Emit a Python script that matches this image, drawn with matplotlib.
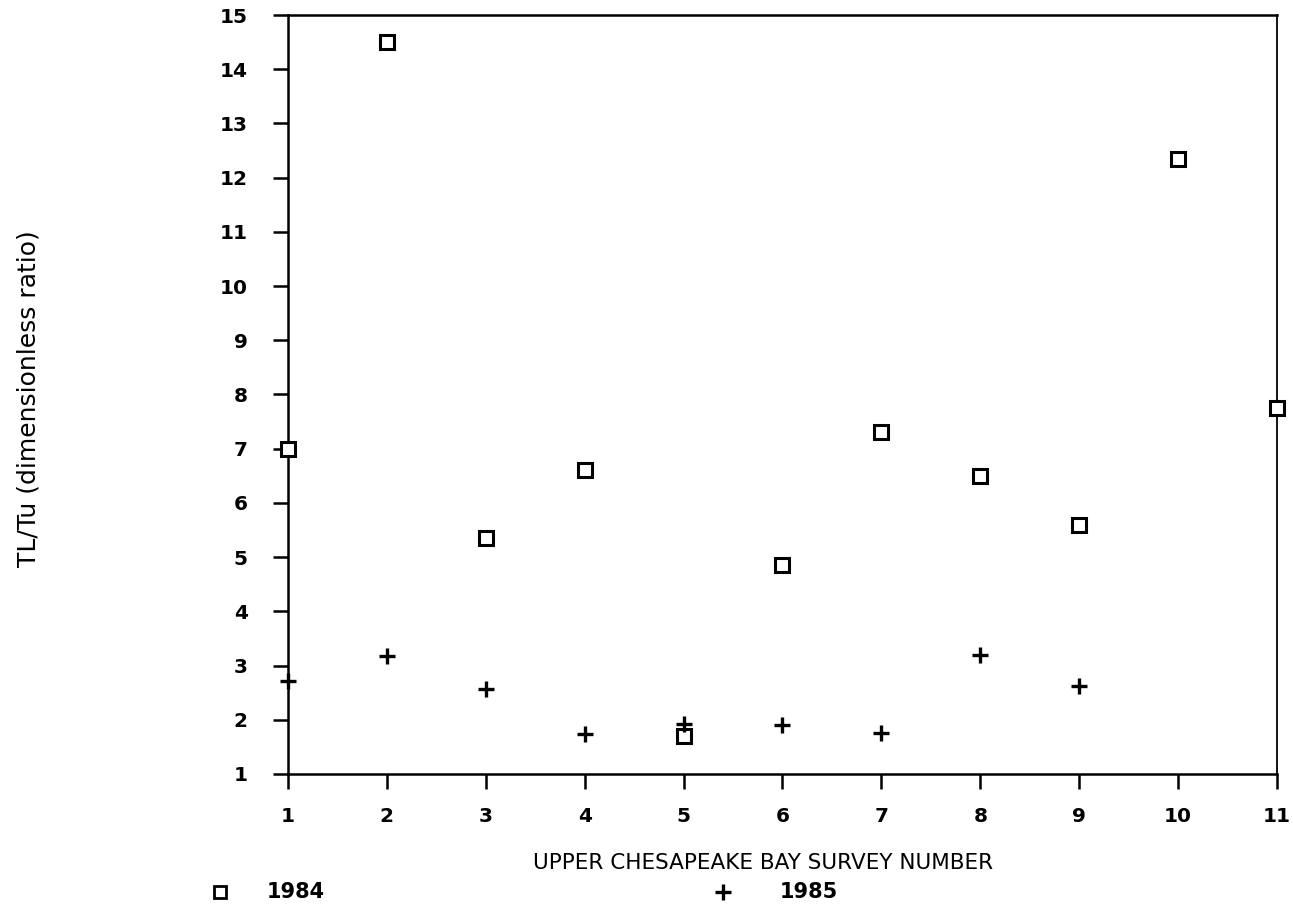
import matplotlib
matplotlib.use('Agg')
import matplotlib.pyplot as plt
from matplotlib.lines import Line2D

# TL/Tu ratio per survey, upper Chesapeake Bay
survey = [1, 2, 3, 4, 5, 6, 7, 8, 9, 10, 11]
ratio_1984 = [7.0, 14.5, 5.35, 6.6, 1.7, 4.85, 7.3, 6.5, 5.6, 12.35, 7.75]
survey_1985 = [1, 2, 3, 4, 5, 6, 7, 8, 9]
ratio_1985 = [2.72, 3.18, 2.56, 1.73, 1.93, 1.9, 1.75, 3.2, 2.62]

x_ticks = list(range(1, 12))
y_ticks = list(range(1, 16))

plt.rcParams['font.family'] = ['DejaVu Sans']

fig = plt.figure(figsize=(12.93, 9.05), dpi=100)
ax = fig.add_axes([0.2227, 0.1448, 0.7649, 0.8386])

ax.plot(survey, ratio_1984, linestyle='none', marker='s', markersize=9.5,
        markerfacecolor='white', markeredgecolor='black', markeredgewidth=2.2,
        clip_on=False, zorder=3)
ax.plot(survey_1985, ratio_1985, linestyle='none', marker='+', markersize=12,
        color='black', markeredgewidth=2.4, clip_on=False, zorder=3)

ax.set_xlim(1, 11)
ax.set_ylim(1, 15)
ax.set_xticks(x_ticks)
ax.set_yticks(y_ticks)

for side in ['left', 'bottom', 'top', 'right']:
    ax.spines[side].set_linewidth(1.8)
ax.spines['right'].set_linewidth(1.3)

ax.tick_params(axis='both', direction='out', length=11, width=1.8,
               top=False, right=False)
ax.tick_params(axis='y', pad=18)
ax.tick_params(axis='x', pad=13)
for lab in ax.get_xticklabels() + ax.get_yticklabels():
    lab.set_fontsize(14.5)
    lab.set_fontweight('bold')

fig.text(0.590, 0.0464, 'UPPER CHESAPEAKE BAY SURVEY NUMBER', fontsize=15.5,
         ha='center', va='center')
fig.text(0.0217, 0.560, 'TL/Tu (dimensionless ratio)', rotation=90,
         fontsize=18, ha='center', va='center')

# legend row under the axis title
fig.add_artist(Line2D([0.170], [0.0144], transform=fig.transFigure, marker='s',
                      markersize=8, markerfacecolor='white', markeredgecolor='black',
                      markeredgewidth=2.0, linestyle='none'))
fig.text(0.206, 0.0144, '1984', fontsize=15, fontweight='bold', va='center')
fig.add_artist(Line2D([0.559], [0.0144], transform=fig.transFigure, marker='+',
                      markersize=11, color='black', markeredgewidth=2.4,
                      linestyle='none'))
fig.text(0.603, 0.0144, '1985', fontsize=15, fontweight='bold', va='center')

fig.savefig('out.png', dpi=100, facecolor='white')
